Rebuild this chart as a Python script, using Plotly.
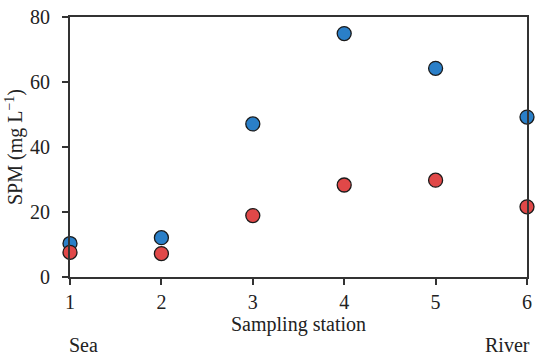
import plotly.graph_objects as go

stations = [1, 2, 3, 4, 5, 6]
spm_blue = [10.3, 12.1, 47.1, 74.9, 64.2, 49.2]
spm_red = [7.6, 7.2, 18.9, 28.3, 29.8, 21.6]
x_ticks = [1, 2, 3, 4, 5, 6]
y_ticks = [0, 20, 40, 60, 80]

font = dict(family="Liberation Serif, Times New Roman, serif", size=20, color="#222222")

fig = go.Figure()
fig.add_trace(go.Scatter(x=stations, y=spm_blue, mode="markers",
                         marker=dict(size=14, color="#2a7fc8", line=dict(color="#1a1a1a", width=1.3)),
                         cliponaxis=False, showlegend=False))
fig.add_trace(go.Scatter(x=stations, y=spm_red, mode="markers",
                         marker=dict(size=14, color="#e04848", line=dict(color="#1a1a1a", width=1.3)),
                         cliponaxis=False, showlegend=False))

axis_common = dict(showgrid=False, zeroline=False, showline=True, linecolor="#333333", linewidth=2,
                   mirror=True, ticks="outside", ticklen=6, tickwidth=1.5, tickcolor="#333333",
                   tickfont=font, automargin=False)
fig.update_xaxes(range=[1, 6], tickvals=x_ticks, title=dict(text="Sampling station", font=font, standoff=2),
                 **axis_common)
fig.update_yaxes(range=[0, 80], tickvals=y_ticks, title=dict(text="SPM (mg L<sup>−1</sup>)", font=font, standoff=2),
                 ticklabelstandoff=8, **axis_common)

fig.add_annotation(text="Sea", x=-0.006, xref="paper", xanchor="left", y=-0.262, yref="paper", yanchor="middle",
                   showarrow=False, font=font)
fig.add_annotation(text="River", x=1.012, xref="paper", xanchor="right", y=-0.262, yref="paper", yanchor="middle",
                   showarrow=False, font=font)

fig.update_layout(width=550, height=356, margin=dict(l=70, r=23, t=17, b=79),
                  plot_bgcolor="white", paper_bgcolor="white", font=font)
fig.write_html("out.html", config={"displayModeBar": False},
               post_script="document.body.style.margin='0';document.body.style.overflow='hidden';")
